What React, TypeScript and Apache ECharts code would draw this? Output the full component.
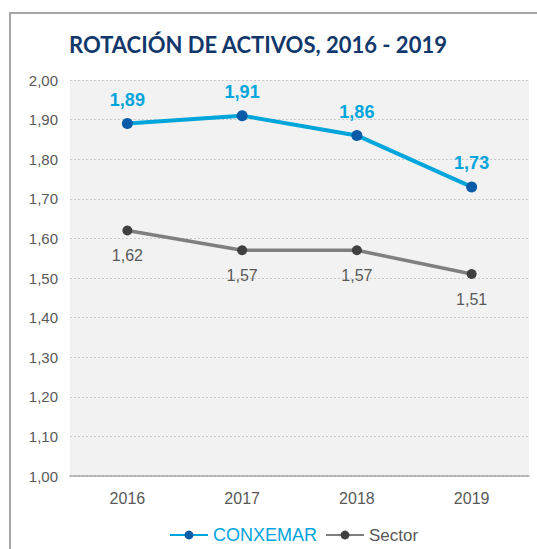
import React, { useEffect, useRef } from "react";
import * as echarts from "echarts";

const categories = ["2016", "2017", "2018", "2019"];
const conxemar = [1.89, 1.91, 1.86, 1.73];
const sector = [1.62, 1.57, 1.57, 1.51];
const titleText = "ROTACIÓN DE ACTIVOS, 2016 - 2019";

const fmt = (v: number) => v.toFixed(2).replace(".", ",");

export default function App() {
  const ref = useRef<HTMLDivElement>(null);
  useEffect(() => {
    document.body.style.margin = "0";
    const chart = echarts.init(ref.current!, null, { renderer: "svg" });
    chart.setOption({
      animation: false,
      backgroundColor: "#ffffff",
      textStyle: { fontFamily: "Liberation Sans" },
      graphic: [
        {
          type: "rect",
          shape: { x: 10, y: 13, width: 700, height: 700 },
          style: { fill: "none", stroke: "#a6a6a6", lineWidth: 2 },
          silent: true,
        },
      ],
      title: {
        text: titleText,
        left: 64,
        top: 28,
        textStyle: {
          fontFamily: "Lato",
          fontWeight: "bold",
          fontSize: 22,
          color: "#12386b",
        },
      },
      legend: {
        bottom: 0,
        left: 164,
        itemWidth: 38,
        itemHeight: 11,
        itemGap: 8,
        data: [
          { name: "CONXEMAR", textStyle: { color: "#00a5dc", fontSize: 18 } },
          { name: "Sector", textStyle: { color: "#595959", fontSize: 17 } },
        ],
      },
      grid: { left: 70, right: 8, top: 80, bottom: 73, backgroundColor: "#f2f2f2", show: true, borderWidth: 0 },
      xAxis: {
        type: "category",
        data: categories,
        boundaryGap: true,
        axisLine: { lineStyle: { color: "#a6a6a6", width: 1.5 } },
        axisTick: { inside: true, length: 5, lineStyle: { color: "#a6a6a6" } },
        axisLabel: { color: "#595959", fontSize: 16, margin: 14 },
      },
      yAxis: {
        type: "value",
        min: 1,
        max: 2,
        interval: 0.1,
        axisLine: { show: false },
        axisTick: { show: false },
        axisLabel: { color: "#595959", fontSize: 15, margin: 12, formatter: (v: number) => fmt(v) },
        splitLine: { lineStyle: { color: "#c8c8c8", type: [2, 2], width: 1 } },
      },
      series: [
        {
          name: "CONXEMAR",
          type: "line",
          data: conxemar,
          symbol: "circle",
          symbolSize: 11,
          lineStyle: { color: "#00a5dc", width: 4 },
          itemStyle: { color: "#0a5ba8" },
          label: {
            show: true,
            position: "top",
            distance: 9,
            color: "#00a5dc",
            fontSize: 18,
            fontWeight: "bold",
            formatter: (p: any) => fmt(p.value),
          },
        },
        {
          name: "Sector",
          type: "line",
          data: sector,
          symbol: "circle",
          symbolSize: 10,
          lineStyle: { color: "#7f7f7f", width: 3.5 },
          itemStyle: { color: "#404040" },
          label: {
            show: true,
            position: "bottom",
            distance: 12,
            color: "#595959",
            fontSize: 16,
            formatter: (p: any) => fmt(p.value),
          },
        },
      ],
    });
    return () => chart.dispose();
  }, []);
  return <div ref={ref} style={{ position: "absolute", left: 0, top: 0, width: 537, height: 549 }} />;
}
